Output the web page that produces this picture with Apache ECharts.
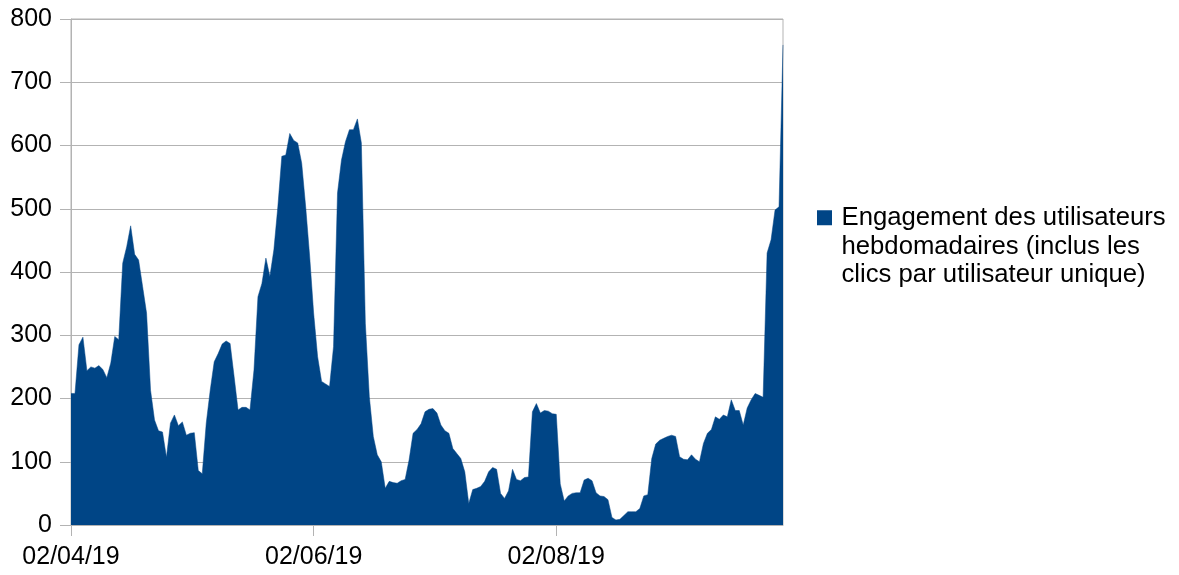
<!DOCTYPE html>
<html>
<head>
<meta charset="utf-8">
<script src="https://cdn.jsdelivr.net/npm/echarts@6/dist/echarts.min.js"></script>
<style>
    html, body { margin: 0; padding: 0; background: #fff; }
    #container { width: 1179px; height: 575px; }
</style>
</head>
<body>
<div id="container"></div>
<script>
(function () {

    // daily values, starting 02/04/19
    const startDate = Date.UTC(2019, 3, 2);
    const values = [
        208, 208, 285, 297, 244, 250, 248, 252, 246, 233,
        256, 298, 293, 414, 440, 473, 428, 419, 377, 335,
        213, 166, 149, 147, 107, 161, 174, 157, 163, 142,
        145, 146, 86, 81, 161, 213, 258, 271, 286, 291,
        287, 235, 182, 186, 186, 182, 245, 361, 382, 422,
        393, 435, 503, 583, 585, 619, 608, 604, 572, 503,
        425, 335, 266, 227, 223, 219, 282, 525, 577, 606,
        625, 625, 642, 604, 319, 203, 140, 111, 100, 58,
        69, 67, 66, 70, 72, 103, 145, 151, 160, 179,
        183, 184, 177, 158, 149, 145, 121, 113, 105, 84,
        34, 56, 58, 61, 69, 84, 91, 88, 50, 42,
        54, 88, 72, 70, 75, 76, 179, 192, 177, 181,
        180, 176, 175, 65, 38, 46, 50, 51, 51, 71,
        74, 70, 51, 46, 45, 40, 12, 8, 9, 15,
        21, 21, 21, 26, 46, 48, 105, 128, 134, 137,
        140, 142, 140, 108, 104, 103, 111, 104, 100, 129,
        145, 151, 171, 167, 174, 171, 198, 181, 181, 158,
        185, 198, 208, 205, 202, 430, 451, 498, 503, 759
    ];
    const seriesName = 'Engagement des utilisateurs\nhebdomadaires (inclus les\nclics par utilisateur unique)';
    const labelStep = 61; // 02/04, 02/06, 02/08

    const pad = (n) => (n < 10 ? '0' : '') + n;
    // build the day labels dd/mm/yy
    const dates = values.map((v, i) => {
        const d = new Date(startDate + i * 86400000);
        return pad(d.getUTCDate()) + '/' + pad(d.getUTCMonth() + 1) + '/' + String(d.getUTCFullYear()).slice(2);
    });

    const gray = '#b3b3b3';
    const font = '"Liberation Sans", Arial, sans-serif';

    var dom = document.getElementById('container');
    var myChart = echarts.init(dom, null, { renderer: 'canvas' });

    myChart.setOption({
        animation: false,
        grid: {
            left: 71, right: 396, top: 19, bottom: 50,
            show: true, borderColor: gray, borderWidth: 1
        },
        legend: {
            left: 817,
            top: 146,
            padding: 0,
            icon: 'rect',
            itemWidth: 15,
            itemHeight: 15,
            // two empty lines on top so the square sits next to the first line
            formatter: (name) => '\n\n' + name,
            textStyle: {
                fontFamily: font, fontSize: 25.7, color: '#000',
                lineHeight: 28.7,
                padding: [0, 0, 0, 4.5]
            },
            data: [seriesName]
        },
        xAxis: {
            type: 'category',
            boundaryGap: false,
            data: dates,
            axisLine: { lineStyle: { color: gray } },
            axisTick: {
                interval: (idx) => idx % labelStep === 0,
                length: 11,
                lineStyle: { color: gray }
            },
            axisLabel: {
                interval: (idx) => idx % labelStep === 0,
                margin: 20,
                fontFamily: font, fontSize: 25, color: '#000'
            },
            splitLine: { show: false }
        },
        yAxis: {
            type: 'value',
            min: 0,
            max: 800,
            interval: 100,
            axisLine: { show: true, lineStyle: { color: gray } },
            axisTick: { show: true, length: 11, lineStyle: { color: gray } },
            axisLabel: { margin: 19, fontFamily: font, fontSize: 25, color: '#000' },
            splitLine: { lineStyle: { color: gray } }
        },
        series: [
            {
                name: seriesName,
                type: 'line',
                data: values,
                symbol: 'none',
                lineStyle: { color: '#004586', width: 0.5 },
                itemStyle: { color: '#004586' },
                areaStyle: { color: '#004586', opacity: 1 }
            }
        ]
    });
})();
</script>
</body>
</html>
